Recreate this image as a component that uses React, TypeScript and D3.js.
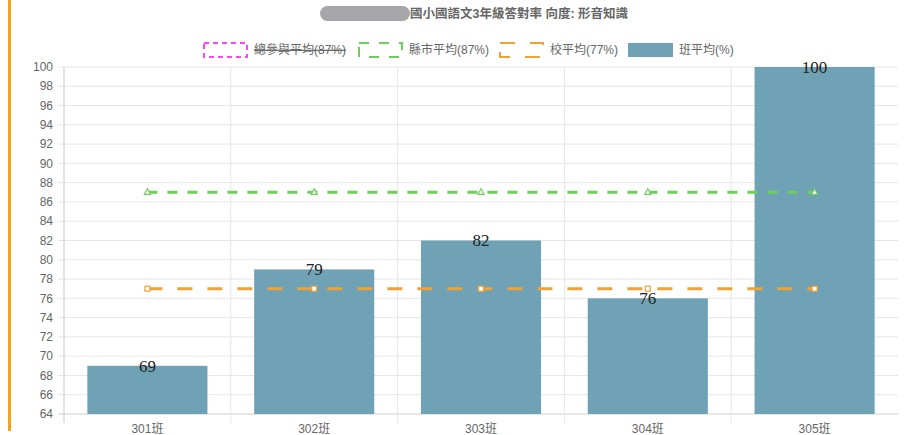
import * as d3 from "d3";

const categories = ["301班", "302班", "303班", "304班", "305班"];
const classAvg = [69, 79, 82, 76, 100];
const cityAvg = [87, 87, 87, 87, 87];
const schoolAvg = [77, 77, 77, 77, 77];
const yTicks = [64, 66, 68, 70, 72, 74, 76, 78, 80, 82, 84, 86, 88, 90, 92, 94, 96, 98, 100];
const titleText = "國小國語文3年級答對率 向度: 形音知識";

const legendItems = [
  { label: "總參與平均(87%)", color: "#ff44ff", dash: "5,4", hidden: true, kind: "dash" },
  { label: "縣市平均(87%)", color: "#6ccf5a", dash: "10,10", hidden: false, kind: "dash" },
  { label: "校平均(77%)", color: "#f2a135", dash: "15,15", hidden: false, kind: "dash" },
  { label: "班平均(%)", color: "#70a2b6", dash: "", hidden: false, kind: "fill" },
];

const W = 915;
const H = 435;
const margin = { top: 67, right: 17, bottom: 21, left: 64 };
const font = "Helvetica, Arial, 'Noto Sans CJK TC', sans-serif";

export default function App() {
  const x = d3
    .scaleBand<string>()
    .domain(categories)
    .range([margin.left, W - margin.right])
    .padding(0);
  const y = d3
    .scaleLinear()
    .domain([64, 100])
    .range([H - margin.bottom, margin.top]);

  const bw = x.bandwidth();
  const barW = bw * 0.72;
  const cx = (c: string) => (x(c) ?? 0) + bw / 2;

  const line = d3
    .line<number>()
    .x((_, i) => cx(categories[i]))
    .y((d) => y(d));

  const legendX = [203, 358, 499, 628];

  return (
    <svg
      width={W}
      height={H}
      style={{ position: "absolute", left: 0, top: 0, background: "#fff" }}
      fontFamily={font}
    >
      {/* page edge */}
      <rect x={8} y={0} width={3} height={431} fill="#f7a21b" />

      {/* title (redacted prefix) */}
      <rect x={320} y={6} width={90} height={15} rx={7.5} fill="#a6a6aa" />
      <text x={410} y={18} fontSize={12.5} fontWeight="bold" fill="#666">
        {titleText}
      </text>

      {/* legend */}
      {legendItems.map((d, i) => (
        <g key={d.label} transform={`translate(${legendX[i]},43)`}>
          {d.kind === "fill" ? (
            <rect width={45} height={14} fill={d.color} />
          ) : (
            <rect
              x={1}
              y={0}
              width={43}
              height={14}
              fill="none"
              stroke={d.color}
              strokeWidth={2}
              strokeDasharray={d.dash}
            />
          )}
          <text
            x={51}
            y={11}
            fontSize={12}
            fill="#666"
            style={{ textDecoration: d.hidden ? "line-through" : "none" }}
          >
            {d.label}
          </text>
        </g>
      ))}

      {/* horizontal grid */}
      {yTicks.map((t) => (
        <g key={t}>
          <line
            x1={margin.left - 6}
            x2={W - margin.right}
            y1={y(t)}
            y2={y(t)}
            stroke={t === 64 ? "#d0d0d0" : "#e6e6e6"}
          />
          <text
            x={margin.left - 11}
            y={y(t)}
            dy="0.35em"
            textAnchor="end"
            fontSize={12}
            fill="#666"
          >
            {t}
          </text>
        </g>
      ))}

      {/* vertical grid */}
      {categories.map((c) => (
        <line
          key={c}
          x1={x(c)}
          x2={x(c)}
          y1={margin.top}
          y2={H - margin.bottom + 9}
          stroke={x(c) === margin.left ? "#c8c8c8" : "#e6e6e6"}
        />
      ))}

      {/* bars */}
      {categories.map((c, i) => (
        <rect
          key={c}
          x={cx(c) - barW / 2}
          y={y(classAvg[i])}
          width={barW}
          height={y(64) - y(classAvg[i])}
          fill="#70a2b6"
        />
      ))}

      {/* average lines */}
      <path
        d={line(cityAvg) ?? ""}
        fill="none"
        stroke="#6ccf5a"
        strokeWidth={3}
        strokeDasharray="10,10"
      />
      <path
        d={line(schoolAvg) ?? ""}
        fill="none"
        stroke="#f2a135"
        strokeWidth={3}
        strokeDasharray="15,15"
      />
      {categories.map((c, i) => {
        const px = cx(c);
        const py = y(cityAvg[i]);
        return (
          <path
            key={"t" + c}
            d={`M${px},${py - 3.5}L${px + 3},${py + 2}L${px - 3},${py + 2}Z`}
            fill="#fff"
            stroke="#6ccf5a"
            strokeWidth={1.2}
          />
        );
      })}
      {categories.map((c, i) => (
        <rect
          key={"s" + c}
          x={cx(c) - 2.5}
          y={y(schoolAvg[i]) - 2.5}
          width={5}
          height={5}
          fill="#fff"
          stroke="#f2a135"
          strokeWidth={1.2}
        />
      ))}

      {/* bar value labels */}
      {categories.map((c, i) => (
        <text
          key={"v" + c}
          x={cx(c)}
          y={y(classAvg[i])}
          dy="0.35em"
          textAnchor="middle"
          fontSize={17}
          fontFamily="'Liberation Serif', serif"
          fill="#222"
        >
          {classAvg[i]}
        </text>
      ))}

      {/* x labels */}
      {categories.map((c) => (
        <text
          key={"x" + c}
          x={cx(c)}
          y={433}
          textAnchor="middle"
          fontSize={12}
          fill="#666"
        >
          {c}
        </text>
      ))}
    </svg>
  );
}
